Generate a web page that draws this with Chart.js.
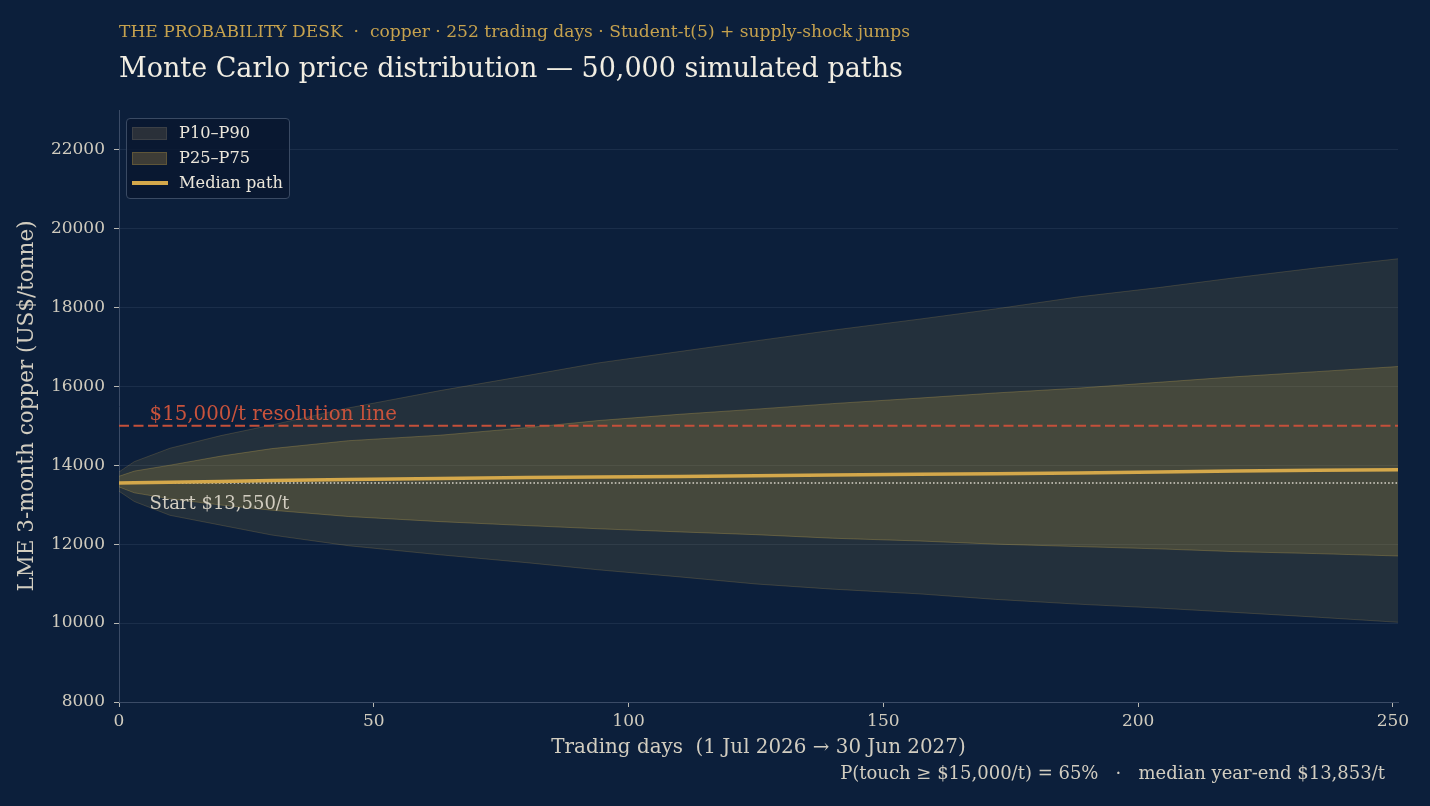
<!DOCTYPE html>
<html>
<head>
<meta charset="utf-8">
<script src="https://cdn.jsdelivr.net/npm/chart.js"></script>
<style>
  html, body { margin: 0; padding: 0; background: #0c1f3b; }
  #wrap { position: relative; width: 1430px; height: 806px; overflow: hidden; font-family: "DejaVu Serif", serif; }
  #wrap canvas { position: absolute; left: 0; top: 0; }
  .txt { position: absolute; white-space: pre; line-height: 1; }
  #kicker { left: 119px; top: 23px; font-size: 17.1px; color: #c6a24e; }
  #title { left: 119px; top: 54px; font-size: 27px; color: #f1ede2; }
  #foot { right: 45px; top: 764px; font-size: 18px; color: #d2cdc0; }
  #legend { position: absolute; left: 126px; top: 118px; width: 162px; height: 79px; border: 1px solid #3a4a63; border-radius: 4px; background: rgba(9, 24, 48, 0.85); }
  .item { position: absolute; left: 5px; height: 20px; }
  .sw { position: absolute; left: 0; width: 33px; height: 11px; }
  .lab { position: absolute; left: 47px; font-size: 16.2px; color: #ebe6da; white-space: pre; line-height: 1; }
</style>
</head>
<body>
<div id="wrap">
  <canvas id="chart" width="1430" height="806"></canvas>
  <div id="kicker" class="txt">THE PROBABILITY DESK  ·  copper · 252 trading days · Student-t(5) + supply-shock jumps</div>
  <div id="title" class="txt">Monte Carlo price distribution — 50,000 simulated paths</div>
  <div id="foot" class="txt">P(touch ≥ $15,000/t) = 65%   ·   median year-end $13,853/t</div>
  <div id="legend">
    <div class="item" style="top:6px;"><div class="sw" style="top:2px;background:#2a3039;border:1px solid #3c4046;"></div><div class="lab" style="top:0px;">P10–P90</div></div>
    <div class="item" style="top:31px;"><div class="sw" style="top:2px;background:#3d3c36;border:1px solid #5e5538;"></div><div class="lab" style="top:0px;">P25–P75</div></div>
    <div class="item" style="top:56px;"><div class="sw" style="top:6px;height:4px;width:36px;background:#d4a84b;"></div><div class="lab" style="top:0px;">Median path</div></div>
  </div>
</div>
<script>
// trading-day samples
const days   = [0, 3, 10, 20, 30, 45, 63, 80, 94, 110, 125, 140, 157, 172, 188, 204, 219, 235, 251];
const p90    = [13830, 14090, 14430, 14750, 15020, 15450, 15890, 16270, 16590, 16880, 17150, 17420, 17700, 17960, 18260, 18500, 18750, 19000, 19230];
const p75    = [13720, 13850, 14000, 14230, 14420, 14620, 14760, 14950, 15130, 15290, 15420, 15560, 15700, 15830, 15950, 16100, 16240, 16370, 16500];
const median = [13550, 13555, 13570, 13590, 13610, 13640, 13660, 13690, 13700, 13715, 13730, 13750, 13770, 13785, 13805, 13825, 13855, 13870, 13885];
const p25    = [13450, 13300, 13150, 12990, 12860, 12700, 12570, 12470, 12390, 12310, 12240, 12150, 12080, 12000, 11940, 11880, 11810, 11760, 11700];
const p10    = [13340, 13080, 12730, 12480, 12230, 11960, 11730, 11530, 11350, 11170, 10990, 10860, 10740, 10600, 10480, 10380, 10270, 10150, 10020];

const startPrice = 13550;
const resolutionLevel = 15000;
const xTicks = [0, 50, 100, 150, 200, 250];
const yTicks = [8000, 10000, 12000, 14000, 16000, 18000, 20000, 22000];

const pts = arr => arr.map((v, i) => ({ x: days[i], y: v }));
const flat = v => [{ x: days[0], y: v }, { x: days[days.length - 1], y: v }];

const FONT = '"DejaVu Serif", serif';

// text labels sitting on the reference lines
const notes = {
  id: 'notes',
  afterDatasetsDraw(chart) {
    const { ctx, scales } = chart;
    const x = scales.x.getPixelForValue(6);
    ctx.save();
    ctx.textAlign = 'left';
    ctx.textBaseline = 'alphabetic';
    ctx.font = '19.8px ' + FONT;
    ctx.fillStyle = '#c9533c';
    ctx.fillText('$15,000/t resolution line', x, scales.y.getPixelForValue(resolutionLevel) - 6);
    ctx.font = '18px ' + FONT;
    ctx.fillStyle = '#d2cdc0';
    ctx.fillText('Start $13,550/t', x, scales.y.getPixelForValue(startPrice) + 26);
    ctx.restore();
  }
};

new Chart(document.getElementById('chart'), {
  type: 'line',
  data: {
    datasets: [
      { label: 'P10', data: pts(p10), borderColor: 'rgba(190,160,80,0.22)', borderWidth: 1, pointRadius: 0, fill: false, order: 3 },
      { label: 'P10–P90', data: pts(p90), borderColor: 'rgba(190,160,80,0.22)', borderWidth: 1, pointRadius: 0,
        fill: { target: 0 }, backgroundColor: 'rgba(190,160,70,0.13)', order: 3 },
      { label: 'P25', data: pts(p25), borderColor: 'rgba(200,170,80,0.3)', borderWidth: 1, pointRadius: 0, fill: false, order: 2 },
      { label: 'P25–P75', data: pts(p75), borderColor: 'rgba(200,170,80,0.3)', borderWidth: 1, pointRadius: 0,
        fill: { target: 2 }, backgroundColor: 'rgba(200,165,62,0.21)', order: 2 },
      { label: 'Start', data: flat(startPrice), borderColor: '#d8d4c8', borderWidth: 1.5, borderDash: [1.6, 2.1], pointRadius: 0, fill: false, order: 1 },
      { label: 'Median path', data: pts(median), borderColor: '#d4a84b', borderWidth: 3.5, pointRadius: 0, fill: false, order: 0 },
      { label: 'Resolution', data: flat(resolutionLevel), borderColor: '#c4503a', borderWidth: 2.2, borderDash: [10, 4.5], pointRadius: 0, fill: false, order: 0 }
    ]
  },
  options: {
    responsive: false,
    animation: false,
    devicePixelRatio: 1,
    layout: { padding: { top: 110, right: 32, left: 0, bottom: 0 } },
    plugins: { legend: { display: false }, tooltip: { enabled: false } },
    elements: { line: { tension: 0 } },
    scales: {
      x: {
        type: 'linear', min: 0, max: 251,
        afterFit: s => { s.height = 104; },
        afterBuildTicks: s => { s.ticks = xTicks.map(v => ({ value: v })); },
        grid: { drawOnChartArea: false, drawTicks: true, tickLength: 5, tickColor: '#b9b9b4' },
        border: { color: '#3b4b66', width: 1 },
        ticks: { color: '#d0cbbe', font: { family: FONT, size: 17 }, padding: 4, maxRotation: 0, callback: v => String(v) },
        title: { display: true, text: 'Trading days  (1 Jul 2026 → 30 Jun 2027)', color: '#d2cdc0',
                 font: { family: FONT, size: 19.9 }, padding: { top: 0, bottom: 46 } }
      },
      y: {
        min: 8000, max: 23000,
        afterFit: s => { s.width = 119; },
        afterBuildTicks: s => { s.ticks = yTicks.map(v => ({ value: v })); },
        grid: { color: 'rgba(120,140,170,0.14)', drawTicks: true, tickLength: 5, tickColor: '#b9b9b4' },
        border: { color: '#3b4b66', width: 1 },
        ticks: { color: '#d0cbbe', font: { family: FONT, size: 17 }, padding: 9, callback: v => String(v) },
        title: { display: true, text: 'LME 3-month copper (US$/tonne)', color: '#d2cdc0',
                 font: { family: FONT, size: 21.5 }, padding: { top: 15, bottom: 0 } }
      }
    }
  },
  plugins: [notes]
});
</script>
</body>
</html>
